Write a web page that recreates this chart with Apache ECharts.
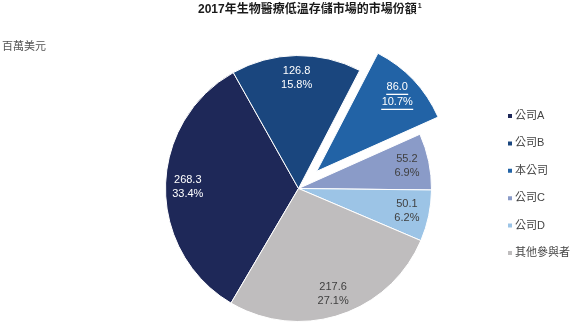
<!DOCTYPE html>
<html>
<head>
<meta charset="utf-8">
<script src="https://cdn.jsdelivr.net/npm/echarts@6/dist/echarts.min.js"></script>
<style>
  html, body { margin: 0; padding: 0; background: #ffffff; }
  #chart { width: 575px; height: 326px; }
</style>
</head>
<body>
<div id="chart"></div>
<script>
// Market share of biomedical cold storage, 2017 (USD millions)
const names = ['公司A', '公司B', '本公司', '公司C', '公司D', '其他參與者'];
const values = [268.3, 126.8, 86.0, 55.2, 50.1, 217.6];
const highlighted = '本公司';

const sliceColors = ['#1e2858', '#1a467e', '#2263a6', '#8a9bc8', '#9cc4e6', '#bfbdbe'];
const labelColors = ['#ffffff', '#ffffff', '#ffffff', '#404040', '#404040', '#404040'];

const FONT = 'Arial, "Liberation Sans", "Noto Sans CJK TC", sans-serif';
const CENTER = [298.5, 188.5];
const R = 133;
const OFFSET = 25;

const total = values.reduce((a, b) => a + b, 0);
const pctText = (v) => (v / total * 100).toFixed(1) + '%';

const chart = echarts.init(document.getElementById('chart'), null, { renderer: 'canvas' });

const pieData = names.map((n, i) => ({
  name: n,
  value: values[i],
  selected: n === highlighted,
  itemStyle: { color: sliceColors[i] }
}));

// transparent ring used only to place the value labels further out from the centre
const labelData = names.map((n, i) => ({
  name: n,
  value: values[i],
  selected: n === highlighted,
  itemStyle: { color: 'rgba(0,0,0,0)', borderWidth: 0 },
  label: { color: labelColors[i] }
}));

chart.setOption({
  animation: false,
  title: [
    {
      text: '{t|2017年生物醫療低溫存儲市場的市場份額}{s|1}',
      left: 193,
      top: -2,
      textStyle: {
        rich: {
          t: { fontFamily: FONT, fontSize: 12, fontWeight: 'bold', color: '#1a1a1a', lineHeight: 14 },
          s: { fontFamily: FONT, fontSize: 7, color: '#1a1a1a', verticalAlign: 'top', padding: [0, 0, 6, 1] }
        }
      }
    },
    {
      text: '百萬美元',
      left: -3,
      top: 35,
      textStyle: { fontFamily: FONT, fontSize: 11, fontWeight: 'normal', color: '#555555', lineHeight: 14 }
    }
  ],
  legend: {
    orient: 'vertical',
    left: 501,
    top: 104,
    data: names,
    icon: 'rect',
    itemWidth: 6,
    itemHeight: 6,
    itemGap: 13.4,
    selectedMode: false,
    textStyle: { fontFamily: FONT, fontSize: 11, color: '#444444', lineHeight: 14, padding: [0, 0, 0, -3] }
  },
  series: [
    {
      type: 'pie',
      center: CENTER,
      radius: [0, R],
      startAngle: 239.5,
      clockwise: true,
      selectedMode: 'single',
      selectedOffset: OFFSET,
      silent: true,
      label: { show: false },
      labelLine: { show: false },
      emphasis: { disabled: true },
      itemStyle: { borderColor: '#ffffff', borderWidth: 1 },
      data: pieData
    },
    {
      type: 'pie',
      center: CENTER,
      radius: [R * 0.62, R],
      startAngle: 239.5,
      clockwise: true,
      selectedMode: 'single',
      selectedOffset: OFFSET,
      silent: true,
      labelLine: { show: false },
      emphasis: { disabled: true },
      label: {
        show: true,
        position: 'inside',
        fontFamily: FONT,
        fontSize: 11,
        lineHeight: 14,
        align: 'center',
        formatter: (p) => {
          const v = p.value.toFixed(1);
          const pct = pctText(p.value);
          if (p.name === highlighted) {
            return '{u|' + v + '}\n{l1|}\n{u|' + pct + '}\n{l2|}';
          }
          return v + '\n' + pct;
        },
        rich: {
          u: { fontFamily: FONT, fontSize: 11, color: '#ffffff', lineHeight: 13 },
          l1: { width: 22, height: 1.3, lineHeight: 2, backgroundColor: '#ffffff' },
          l2: { width: 32, height: 1.3, lineHeight: 2, backgroundColor: '#ffffff' }
        }
      },
      data: labelData
    }
  ]
});
</script>
</body>
</html>
